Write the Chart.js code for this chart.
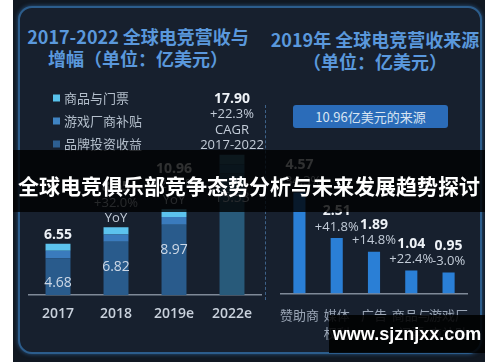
<!DOCTYPE html>
<html>
<head>
<meta charset="utf-8">
<script src="https://cdn.jsdelivr.net/npm/chart.js@4/dist/chart.umd.min.js"></script>
<style>
  body { margin: 0; width: 500px; height: 362px; background: #ffffff; position: relative; overflow: hidden;
         font-family: 'Open Sans', 'Noto Sans CJK SC', sans-serif; }
  .abs { position: absolute; }
  #photo { left: 13px; top: 0; width: 472px; height: 362px; background: #111822; }
  #panel { left: 18px; top: 6px; width: 460px; height: 344px; border: 2px solid #2c5d8c; border-radius: 14px;
           background: #17202e; box-shadow: 0 0 4px rgba(60,130,200,0.6); }
  .title { color: #5a98dc; font-weight: bold; font-family: 'Noto Sans CJK SC', sans-serif; text-align: center; white-space: nowrap; }
  #srcBox { left: 293px; top: 105px; width: 155px; height: 23px; background: #2b6cb9; border-radius: 3px;
            color: #d9e5f2; font-size: 13px; line-height: 23px; text-align: center; font-family: 'Noto Sans CJK SC', sans-serif; }
  #divider { left: 265px; top: 105px; height: 195px; border-left: 1px dashed #3e6289; }
  #banner { left: 13px; top: 150px; width: 472px; height: 54px; padding-top: 8px; background: rgba(0,0,0,0.8);
            color: #ffffff; font-size: 21px; font-weight: bold; line-height: 54px; text-align: center;
            font-family: 'Noto Sans CJK SC', sans-serif; white-space: nowrap; }
  #mark { left: 329px; top: 315px; width: 156px; height: 38px; background: rgba(0,0,0,0.88); color: #fff;
          font: bold 18px 'Liberation Sans', sans-serif; line-height: 38px; text-align: center; }
</style>
</head>
<body>
<div id="photo" class="abs"></div>
<div id="panel" class="abs"></div>
<div class="abs title" style="left:18px;top:25px;width:240px;font-size:18px;line-height:22px;">2017-2022 全球电竞营收与<br>增幅（单位：亿美元）</div>
<div class="abs title" style="left:270px;top:28px;width:210px;font-size:18px;line-height:22px;">2019年 全球电竞营收来源<br>（单位：亿美元）</div>
<div id="srcBox" class="abs">10.96亿美元的来源</div>
<div id="divider" class="abs"></div>
<canvas id="left" class="abs" width="250" height="270" style="left:18px;top:75px;"></canvas>
<canvas id="right" class="abs" width="212" height="230" style="left:268px;top:140px;"></canvas>
<div id="banner" class="abs">全球电竞俱乐部竞争态势分析与未来发展趋势探讨</div>
<div id="mark" class="abs">www.sjznjxx.com</div>
<script>
// left chart: revenue by year (stacked)
const years = ['2017', '2018', '2019e', '2022e'];
const brandIncome = [4.68, 6.82, 8.97, 15.53];
const publisherFees = [1.0, 0.93, 1.0, 1.17];
const merchTickets = [0.87, 0.9, 0.99, 1.2];
const totalLabels = ['6.55', '8.65', '10.96', '17.90'];
const growthLabels = [[], ['+32.0%', 'YoY'], ['+26.7%', 'YoY'], ['+22.3%', 'CAGR', '2017-2022']];

// right chart: 2019 revenue sources
const sources = ['赞助商', ['媒体', '权利'], '广告', ['商品与', '门票'], ['游戏厂', '商补贴']];
const sourceValues = [4.57, 2.51, 1.89, 1.04, 0.95];
const sourceGrowth = ['+34.3%', '+41.8%', '+14.8%', '+22.4%', '-3.0%'];

const numFont = "'Open Sans', sans-serif";
const cjkFont = "'Noto Sans CJK SC', sans-serif";

const leftLabels = {
    id: 'leftLabels',
    afterDatasetsDraw(chart) {
        const ctx = chart.ctx;
        const bottom = chart.getDatasetMeta(0);
        const top = chart.getDatasetMeta(2);
        ctx.save();
        ctx.textAlign = 'center';
        ctx.textBaseline = 'middle';
        years.forEach((y, i) => {
            const bar = top.data[i];
            const lines = [totalLabels[i]].concat(growthLabels[i]);
            lines.forEach((t, k) => {
                const yy = bar.y - 9 - (lines.length - 1 - k) * 15.5;
                ctx.font = k === 0 ? 'bold 14px ' + numFont : '13px ' + numFont;
                ctx.fillStyle = k === 0 ? '#eef2f7' : '#c3ccd8';
                ctx.fillText(t, bar.x, yy);
            });
            // value inside the bottom segment
            const seg = bottom.data[i];
            ctx.font = '14px ' + numFont;
            ctx.fillStyle = '#cdd8e6';
            ctx.fillText(brandIncome[i].toFixed(2), seg.x, seg.y + 25);
        });
        // legend, top dataset first
        const ds = chart.data.datasets;
        ctx.textAlign = 'left';
        [2, 1, 0].forEach((d, k) => {
            const ly = 23 + k * 23;
            ctx.fillStyle = ds[d].legendColor;
            ctx.fillRect(35, ly - 3.5, 7, 7);
            ctx.font = '13px ' + cjkFont;
            ctx.fillStyle = '#b4bfcc';
            ctx.fillText(ds[d].label, 46, ly);
        });
        ctx.restore();
    }
};

const rightLabels = {
    id: 'rightLabels',
    afterDatasetsDraw(chart) {
        const ctx = chart.ctx;
        const meta = chart.getDatasetMeta(0);
        ctx.save();
        ctx.textAlign = 'center';
        ctx.textBaseline = 'middle';
        meta.data.forEach((bar, i) => {
            ctx.font = 'bold 14px ' + numFont;
            ctx.fillStyle = '#eef2f7';
            ctx.fillText(sourceValues[i].toFixed(2), bar.x, bar.y - 27);
            ctx.font = '13px ' + numFont;
            ctx.fillStyle = '#c3ccd8';
            ctx.fillText(sourceGrowth[i], bar.x, bar.y - 11);
        });
        ctx.restore();
    }
};

new Chart(document.getElementById('left'), {
    type: 'bar',
    data: {
        labels: years,
        datasets: [
            { label: '品牌投资收益', data: brandIncome, legendColor: '#2d5f92',
              backgroundColor: ['#295b8c', '#295b8c', '#295b8c', '#285a7a'] },
            { label: '游戏厂商补贴', data: publisherFees, legendColor: '#3f83c2',
              backgroundColor: ['#3a7bbd', '#3a7bbd', '#3a7bbd', '#316a8a'] },
            { label: '商品与门票', data: merchTickets, legendColor: '#58c2ec',
              backgroundColor: ['#5cc3ee', '#5cc3ee', '#5cc3ee', '#3d7893'] }
        ]
    },
    options: {
        responsive: false,
        animation: false,
        layout: { padding: { left: 11, right: 7, top: 79, bottom: 13 } },
        datasets: { bar: { barPercentage: 0.43, categoryPercentage: 1 } },
        plugins: { legend: { display: false }, tooltip: { enabled: false } },
        scales: {
            x: {
                stacked: true,
                grid: { display: false, drawTicks: false },
                border: { color: '#7f8998', width: 1.5 },
                ticks: { color: '#c9d1dc', padding: 10, font: { family: numFont, size: 14, weight: '600' } }
            },
            y: { stacked: true, display: false, min: 0, max: 18 }
        }
    },
    plugins: [leftLabels]
});

new Chart(document.getElementById('right'), {
    type: 'bar',
    data: {
        labels: sources,
        datasets: [{ label: '2019', data: sourceValues, backgroundColor: '#2a7fd6' }]
    },
    options: {
        responsive: false,
        animation: false,
        layout: { padding: { left: 6, right: 6, top: 43, bottom: 16 } },
        datasets: { bar: { barPercentage: 0.65, categoryPercentage: 0.5 } },
        plugins: { legend: { display: false }, tooltip: { enabled: false } },
        scales: {
            x: {
                grid: { display: false, drawTicks: false },
                border: { color: '#7f8998', width: 1.5 },
                ticks: { color: '#9ba6b6', padding: 12, autoSkip: false, maxRotation: 0,
                         font: { family: cjkFont, size: 13, lineHeight: 1.4 } }
            },
            y: { display: false, min: 0, max: 5 }
        }
    },
    plugins: [rightLabels]
});
</script>
</body>
</html>
